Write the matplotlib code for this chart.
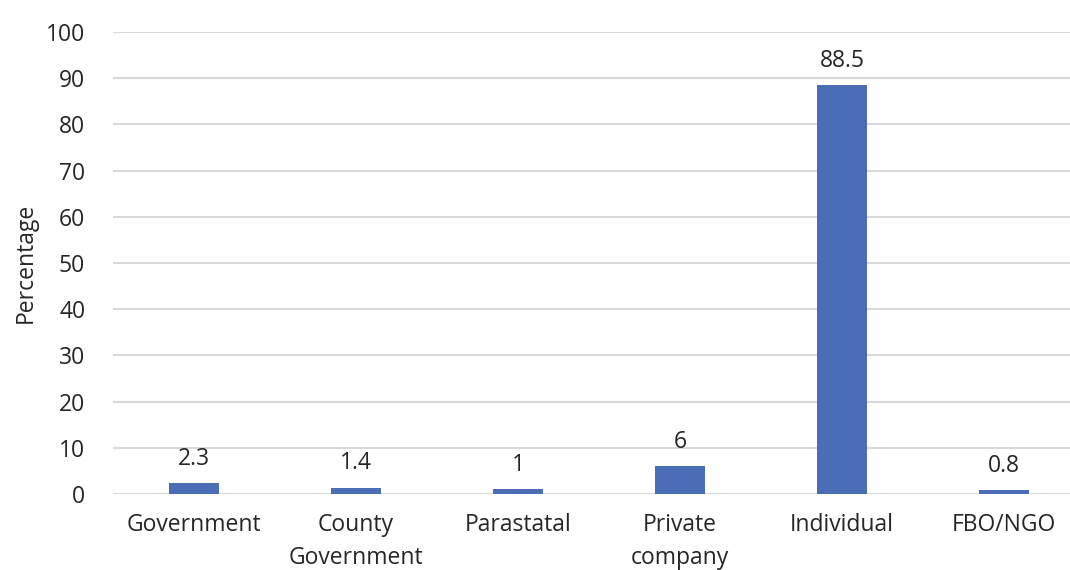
import matplotlib
matplotlib.use("Agg")
import matplotlib.pyplot as plt

categories = ["Government", "County\nGovernment", "Parastatal", "Private\ncompany", "Individual", "FBO/NGO"]
values = [2.3, 1.4, 1, 6, 88.5, 0.8]
labels = ["2.3", "1.4", "1", "6", "88.5", "0.8"]
yticks = [0, 10, 20, 30, 40, 50, 60, 70, 80, 90, 100]

plt.rcParams['font.family'] = ['Open Sans', 'DejaVu Sans']
FS = 16.5
W, H = 1070, 570
fig = plt.figure(figsize=(W/100, H/100), dpi=100)
ax = fig.add_axes([113/W, (H-494)/H, 972/W, 462/H])

x = list(range(len(categories)))
bars = ax.bar(x, values, width=0.31, color="#4a6db5", zorder=3)
for xi, v, lab in zip(x, values, labels):
    ax.annotate(lab, (xi, v), xytext=(0, 9), textcoords="offset points",
                ha="center", va="bottom", fontsize=FS, color="#262626")

ax.set_xlim(-0.5, len(categories) - 0.5)
ax.set_ylim(0, 100)
ax.set_yticks(yticks)
ax.set_xticks(x)
ax.set_xticklabels(categories, fontsize=FS, color="#262626", linespacing=1.5)
ax.tick_params(axis="y", labelsize=FS, labelcolor="#262626", length=0, pad=20)
ax.tick_params(axis="x", length=0, pad=14)
ax.grid(axis="y", color="#d9d9d9", linewidth=1.5, zorder=0)
for s in ax.spines.values():
    s.set_visible(False)
ax.set_ylabel("Percentage", fontsize=FS, color="#262626", labelpad=6)

fig.savefig("out.png", dpi=100)
